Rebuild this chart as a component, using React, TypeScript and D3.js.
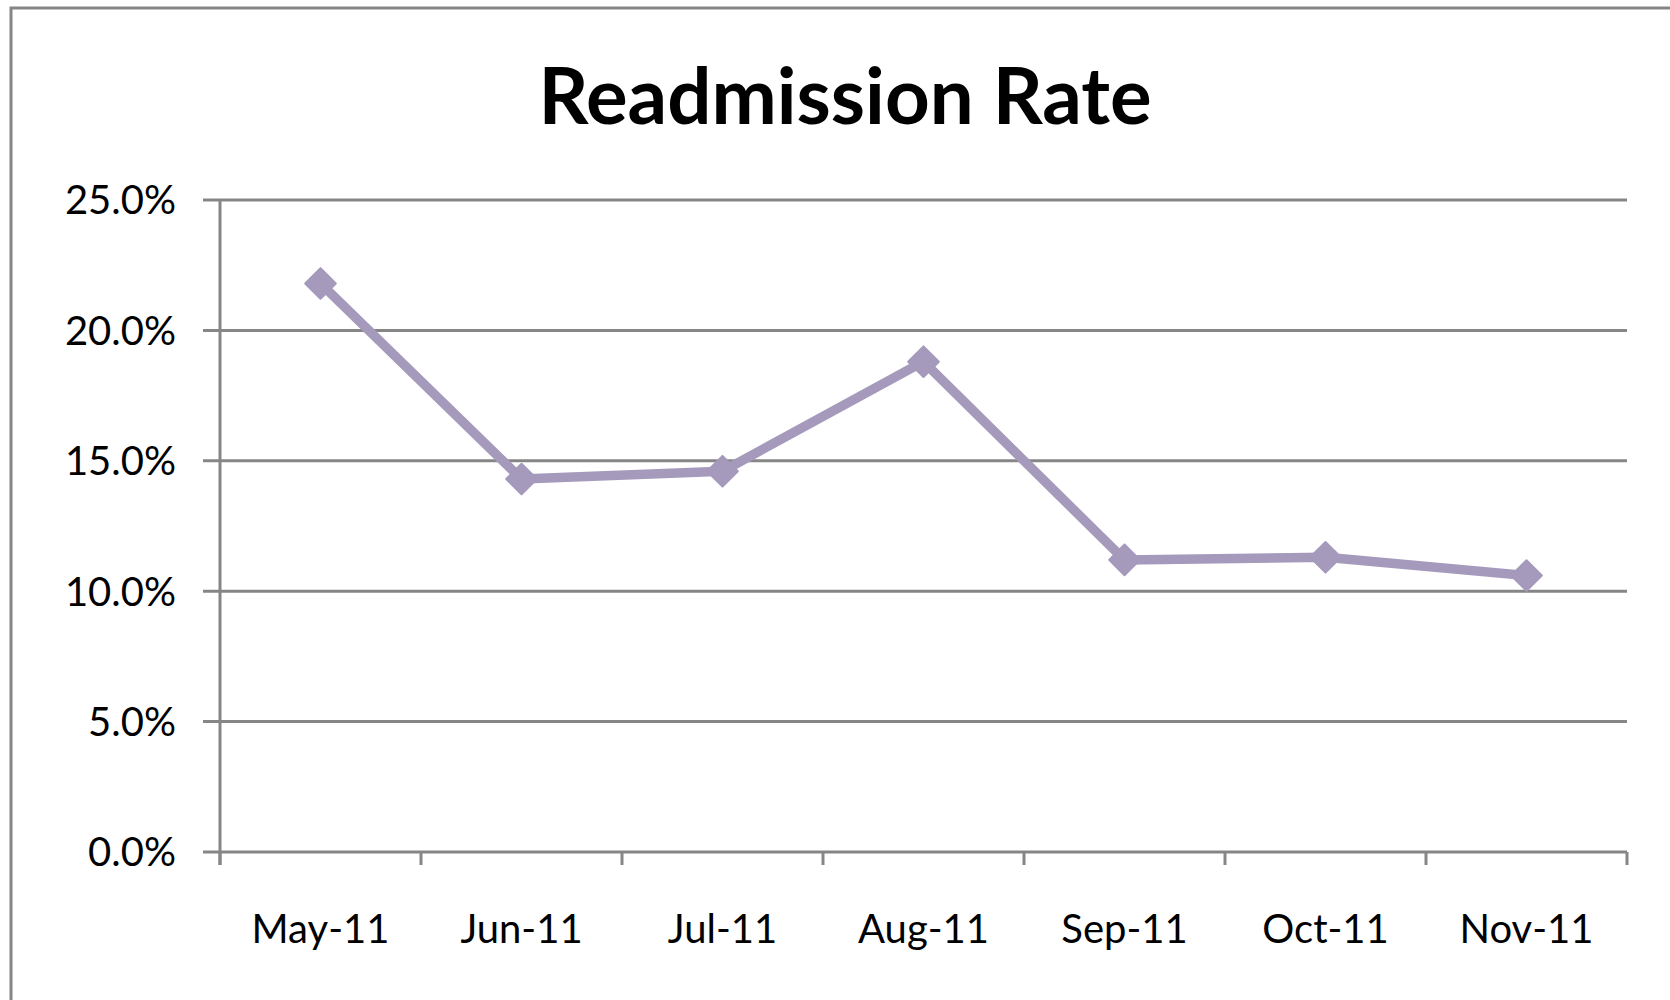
import React, { useRef, useEffect } from 'react';
import * as d3 from 'd3';

// readmission rate by month (%)
const months = ['May-11', 'Jun-11', 'Jul-11', 'Aug-11', 'Sep-11', 'Oct-11', 'Nov-11'];
const rates = [21.8, 14.3, 14.6, 18.8, 11.2, 11.3, 10.6];
const yTicks = [0, 5, 10, 15, 20, 25];

const W = 1670;
const H = 1000;

export default function App() {
  const svgRef = useRef<SVGSVGElement>(null);

  useEffect(() => {
    if (!svgRef.current) return;
    const svg = d3.select(svgRef.current);
    svg.selectAll('*').remove();

    const left = 220;
    const right = 1627;
    const top = 200;
    const bottom = 852;
    const grey = '#868686';
    const purple = '#A599BC';
    const font = 'Lato, "Open Sans", sans-serif';

    svg.append('rect').attr('width', W).attr('height', H).attr('fill', '#fff');

    // outer chart frame (runs off the right/bottom edge)
    svg.append('rect')
      .attr('x', 11).attr('y', 8)
      .attr('width', W + 20).attr('height', H + 20)
      .attr('fill', 'none')
      .attr('stroke', grey)
      .attr('stroke-width', 3);

    svg.append('text')
      .attr('x', 845).attr('y', 124)
      .attr('text-anchor', 'middle')
      .attr('font-family', font)
      .attr('font-weight', 700)
      .attr('font-size', 78)
      .attr('fill', '#000')
      .text('Readmission Rate');

    const x = d3.scaleBand<string>().domain(months).range([left, right]);
    const y = d3.scaleLinear().domain([0, 25]).range([bottom, top]);

    // gridlines + y ticks
    const gy = svg.append('g');
    yTicks.forEach((t) => {
      gy.append('line')
        .attr('x1', left - 17).attr('x2', right)
        .attr('y1', y(t)).attr('y2', y(t))
        .attr('stroke', grey).attr('stroke-width', 3);
      gy.append('text')
        .attr('x', 176).attr('y', y(t))
        .attr('dy', '0.36em')
        .attr('text-anchor', 'end')
        .attr('font-family', font)
        .attr('font-size', 40)
        .attr('fill', '#000')
        .text(`${t.toFixed(1)}%`);
    });

    // y axis line
    svg.append('line')
      .attr('x1', left).attr('x2', left)
      .attr('y1', top).attr('y2', bottom + 13)
      .attr('stroke', grey).attr('stroke-width', 3);

    // x category ticks
    const edges = months.map((m) => x(m)!).concat([right]);
    edges.forEach((ex) => {
      svg.append('line')
        .attr('x1', ex).attr('x2', ex)
        .attr('y1', bottom).attr('y2', bottom + 13)
        .attr('stroke', grey).attr('stroke-width', 3);
    });

    months.forEach((m) => {
      svg.append('text')
        .attr('x', x(m)! + x.bandwidth() / 2)
        .attr('y', 943)
        .attr('text-anchor', 'middle')
        .attr('font-family', font)
        .attr('font-size', 40)
        .attr('fill', '#000')
        .text(m);
    });

    const pts = months.map((m, i) => ({ m, v: rates[i] }));
    const line = d3.line<typeof pts[0]>()
      .x((d) => x(d.m)! + x.bandwidth() / 2)
      .y((d) => y(d.v));

    svg.append('path')
      .datum(pts)
      .attr('d', line)
      .attr('fill', 'none')
      .attr('stroke', purple)
      .attr('stroke-width', 9.5)
      .attr('stroke-linejoin', 'round');

    const diamond = d3.symbol().type(d3.symbolDiamond2).size(600);
    svg.selectAll('.mk')
      .data(pts)
      .enter()
      .append('path')
      .attr('class', 'mk')
      .attr('d', diamond)
      .attr('transform', (d) => `translate(${x(d.m)! + x.bandwidth() / 2},${y(d.v)})`)
      .attr('fill', purple)
      .attr('stroke', purple)
      .attr('stroke-width', 2)
      .attr('stroke-linejoin', 'round');
  }, []);

  return (
    <svg
      ref={svgRef}
      width={W}
      height={H}
      style={{ position: 'absolute', left: 0, top: 0, display: 'block' }}
    />
  );
}
